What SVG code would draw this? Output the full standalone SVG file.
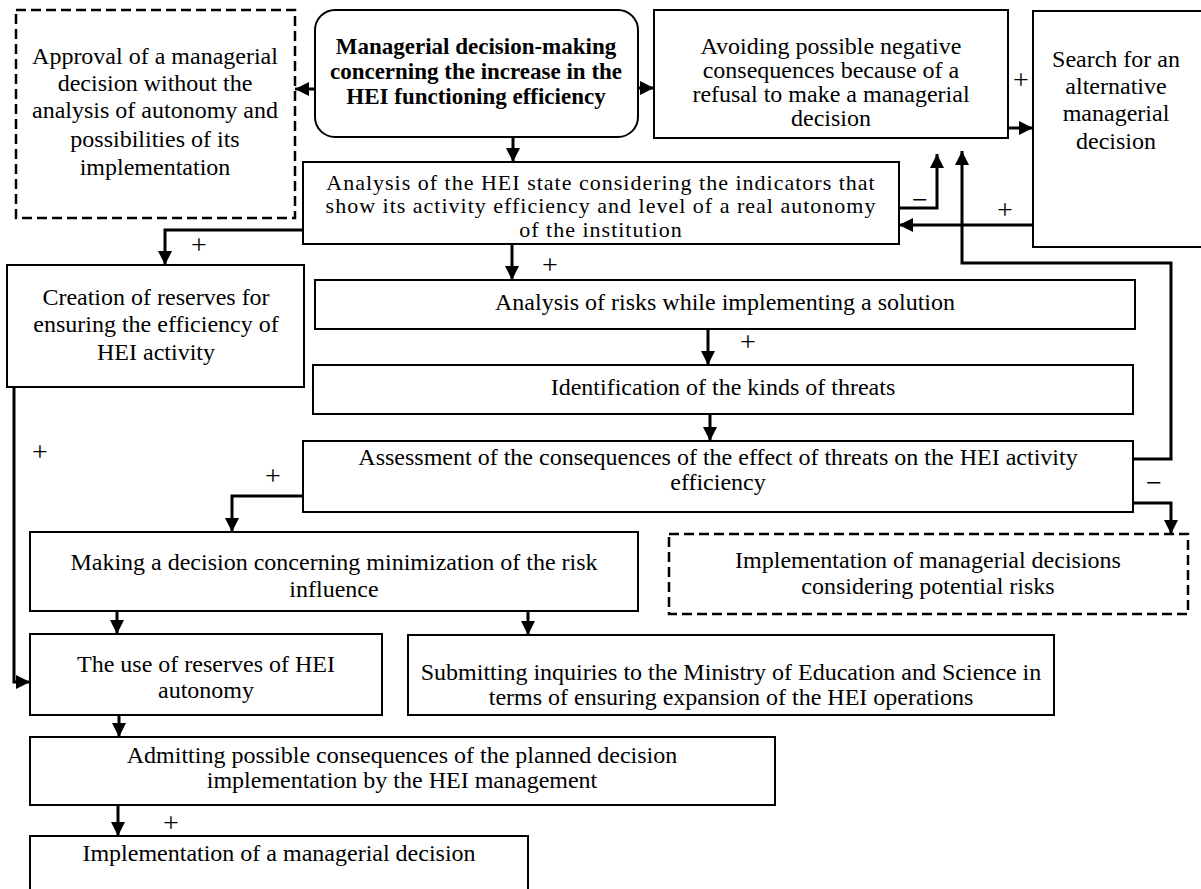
<svg xmlns="http://www.w3.org/2000/svg" width="1201" height="889" viewBox="0 0 1201 889">
<style>
.box{fill:#fff;stroke:#000;stroke-width:2}
.dash{fill:#fff;stroke:#000;stroke-width:2.5;stroke-dasharray:10 5}
.t{font-family:"Liberation Serif","Times New Roman",serif;font-size:24px;fill:#000;text-anchor:middle}
.m{font-size:22px;letter-spacing:1px}
.b{font-weight:bold;font-size:23px}
.c{fill:none;stroke:#000;stroke-width:3;marker-end:url(#ah)}
.s{font-family:"Liberation Serif","Times New Roman",serif;font-size:28px;fill:#000;text-anchor:middle}
</style>
<defs>
<marker id="ah" markerUnits="userSpaceOnUse" markerWidth="16" markerHeight="14" refX="14" refY="7" orient="auto">
<path d="M0,0 L14,7 L0,14 z" fill="#000"/>
</marker>
</defs>
<rect width="1201" height="889" fill="#fff"/>

<g id="approval">
<rect class="dash" x="16" y="10" width="279" height="208"/>
<text class="t" x="155" y="64">Approval of a managerial</text>
<text class="t" x="155" y="91">decision without the</text>
<text class="t" x="155" y="118">analysis of autonomy and</text>
<text class="t" x="155" y="147">possibilities of its</text>
<text class="t" x="155" y="175">implementation</text>
</g>

<g id="main">
<rect class="box" x="315" y="10" width="323" height="127" rx="20" ry="20"/>
<text class="t b" x="476" y="54">Managerial decision-making</text>
<text class="t b" x="476" y="79">concerning the increase in the</text>
<text class="t b" x="476" y="104">HEI functioning efficiency</text>
</g>

<g id="avoiding">
<rect class="box" x="654" y="10" width="354" height="128"/>
<text class="t" x="831" y="54">Avoiding possible negative</text>
<text class="t" x="831" y="78">consequences because of a</text>
<text class="t" x="831" y="102">refusal to make a managerial</text>
<text class="t" x="831" y="126">decision</text>
</g>

<g id="search">
<rect class="box" x="1033" y="11" width="200" height="236"/>
<text class="t" x="1116" y="67">Search for an</text>
<text class="t" x="1116" y="94">alternative</text>
<text class="t" x="1116" y="121">managerial</text>
<text class="t" x="1116" y="149">decision</text>
</g>

<g id="analysis-state">
<rect class="box" x="303" y="162" width="596" height="82"/>
<text class="t m" x="601" y="190">Analysis of the HEI state considering the indicators that</text>
<text class="t m" x="601" y="213">show its activity efficiency and level of a real autonomy</text>
<text class="t m" x="601" y="237">of the institution</text>
</g>

<g id="creation">
<rect class="box" x="7" y="265" width="297" height="122"/>
<text class="t" x="156" y="305">Creation of reserves for</text>
<text class="t" x="156" y="332">ensuring the efficiency of</text>
<text class="t" x="156" y="360">HEI activity</text>
</g>

<g id="risks">
<rect class="box" x="315" y="280" width="820" height="49"/>
<text class="t" x="725" y="310">Analysis of risks while implementing a solution</text>
</g>

<g id="identification">
<rect class="box" x="313" y="365" width="820" height="49"/>
<text class="t" x="723" y="395">Identification of the kinds of threats</text>
</g>

<g id="assessment">
<rect class="box" x="303" y="441" width="830" height="71"/>
<text class="t" x="718" y="465">Assessment of the consequences of the effect of threats on the HEI activity</text>
<text class="t" x="718" y="490">efficiency</text>
</g>

<g id="making">
<rect class="box" x="30" y="532" width="608" height="79"/>
<text class="t" x="334" y="570">Making a decision concerning minimization of the risk</text>
<text class="t" x="334" y="597">influence</text>
</g>

<g id="impl-risks">
<rect class="dash" x="669" y="534" width="519" height="80"/>
<text class="t" x="928" y="568">Implementation of managerial decisions</text>
<text class="t" x="928" y="594">considering potential risks</text>
</g>

<g id="use">
<rect class="box" x="30" y="634" width="352" height="81"/>
<text class="t" x="206" y="672">The use of reserves of HEI</text>
<text class="t" x="206" y="698">autonomy</text>
</g>

<g id="submitting">
<rect class="box" x="408" y="635" width="646" height="80"/>
<text class="t" x="731" y="680">Submitting inquiries to the Ministry of Education and Science in</text>
<text class="t" x="731" y="705">terms of ensuring expansion of the HEI operations</text>
</g>

<g id="admitting">
<rect class="box" x="30" y="737" width="745" height="68"/>
<text class="t" x="402" y="763">Admitting possible consequences of the planned decision</text>
<text class="t" x="402" y="788">implementation by the HEI management</text>
</g>

<g id="implementation">
<rect class="box" x="30" y="836" width="498" height="70"/>
<text class="t" x="279" y="861">Implementation of a managerial decision</text>
</g>

<g id="connectors">
<path class="c" d="M315,89 H295"/>
<path class="c" d="M638,88 H654"/>
<path class="c" d="M513,137 V162"/>
<path class="c" d="M1008,128 H1033"/>
<path class="c" d="M899,208 H937 V154"/>
<path class="c" d="M1033,225 H899"/>
<path class="c" d="M1133,459 H1171 V263 H962 V151"/>
<path class="c" d="M303,230 H165 V265"/>
<path class="c" d="M14,387 V682 H30"/>
<path class="c" d="M512,244 V280"/>
<path class="c" d="M708,329 V365"/>
<path class="c" d="M710,414 V441"/>
<path class="c" d="M303,496 H232 V532"/>
<path class="c" d="M1133,503 H1171 V534"/>
<path class="c" d="M117,611 V634"/>
<path class="c" d="M528,611 V635"/>
<path class="c" d="M119,715 V737"/>
<path class="c" d="M118,805 V836"/>
</g>

<g id="connector-labels">
<text class="s" x="1021" y="89">+</text>
<text class="s" x="920" y="209">−</text>
<text class="s" x="1005" y="219">+</text>
<text class="s" x="199" y="254">+</text>
<text class="s" x="550" y="274">+</text>
<text class="s" x="748" y="351">+</text>
<text class="s" x="40" y="461">+</text>
<text class="s" x="273" y="485">+</text>
<text class="s" x="1154" y="492">−</text>
<text class="s" x="171" y="832">+</text>
</g>
</svg>
